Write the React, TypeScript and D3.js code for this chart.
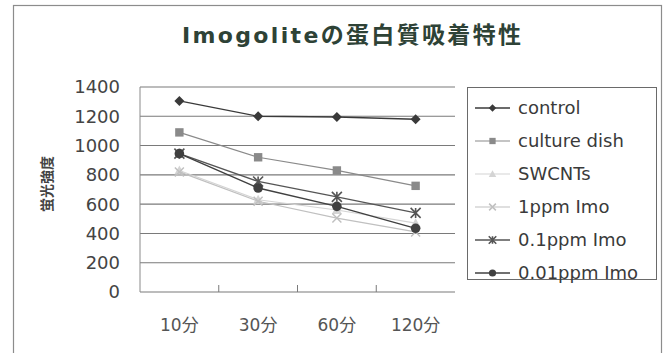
import React from "react";
import * as d3 from "d3";

const categories = ["10分", "30分", "60分", "120分"];
const yTicks = [0, 200, 400, 600, 800, 1000, 1200, 1400];

const control = [1305, 1200, 1195, 1180];
const cultureDish = [1090, 920, 830, 725];
const swcnts = [830, 630, 560, 470];
const imo1ppm = [820, 620, 505, 410];
const imo01ppm = [945, 755, 650, 540];
const imo001ppm = [945, 710, 585, 435];

type Marker = "diamond" | "square" | "triangle" | "x" | "asterisk" | "circle";

const series: { name: string; values: number[]; color: string; marker: Marker; width: number }[] = [
  { name: "control", values: control, color: "#3a3a3a", marker: "diamond", width: 1.4 },
  { name: "culture dish", values: cultureDish, color: "#8a8a8a", marker: "square", width: 1.2 },
  { name: "SWCNTs", values: swcnts, color: "#d4d4d4", marker: "triangle", width: 1.2 },
  { name: "1ppm Imo", values: imo1ppm, color: "#c0c0c0", marker: "x", width: 1.2 },
  { name: "0.1ppm Imo", values: imo01ppm, color: "#555555", marker: "asterisk", width: 1.3 },
  { name: "0.01ppm Imo", values: imo001ppm, color: "#404040", marker: "circle", width: 1.4 },
];

const FONT = "'DejaVu Sans', 'Noto Sans CJK JP', sans-serif";
const CJK = "'Noto Sans CJK JP', sans-serif";

function MarkerShape({ type, x, y, color, s = 1 }: { type: Marker; x: number; y: number; color: string; s?: number }) {
  switch (type) {
    case "diamond": {
      const r = 5 * s;
      return <path d={`M${x},${y - r}L${x + r},${y}L${x},${y + r}L${x - r},${y}Z`} fill={color} />;
    }
    case "square": {
      const r = 4.2 * s;
      return <rect x={x - r} y={y - r} width={2 * r} height={2 * r} fill={color} />;
    }
    case "triangle": {
      const r = 5 * s;
      return <path d={`M${x},${y - r}L${x + r},${y + r * 0.8}L${x - r},${y + r * 0.8}Z`} fill={color} />;
    }
    case "x": {
      const r = 4.5 * s;
      return (
        <path d={`M${x - r},${y - r}L${x + r},${y + r}M${x - r},${y + r}L${x + r},${y - r}`} stroke={color} strokeWidth={1.5} />
      );
    }
    case "asterisk": {
      const r = 5 * s;
      return (
        <path
          d={`M${x - r},${y - r}L${x + r},${y + r}M${x - r},${y + r}L${x + r},${y - r}M${x},${y - r}L${x},${y + r}`}
          stroke={color}
          strokeWidth={1.6}
        />
      );
    }
    case "circle":
      return <circle cx={x} cy={y} r={4.8 * s} fill={color} />;
  }
}

export default function App() {
  const left = 140;
  const right = 455;
  const top = 87;
  const bottom = 292;

  const x = d3.scaleBand<string>().domain(categories).range([left, right]);
  const y = d3.scaleLinear().domain([0, 1400]).range([bottom, top]);
  const cx = (c: string) => (x(c) as number) + x.bandwidth() / 2;

  const line = d3
    .line<number>()
    .x((_, i) => cx(categories[i]))
    .y((v) => y(v));

  const legendX = 467;
  const legendY = 87;
  const legendRow = 33;

  return (
    <svg
      width={671}
      height={353}
      style={{ position: "absolute", left: 0, top: 0, background: "#fff" }}
      fontFamily={FONT}
    >
      <rect x={0} y={0} width={671} height={353} fill="#fff" />
      <rect x={13.5} y={5.5} width={648} height={352} fill="none" stroke="#8c8c8c" strokeWidth={1.2} />

      <text
        x={182}
        y={43}
        fontSize={22}
        fontWeight={700}
        fill="#2e4236"
        textLength={339}
        lengthAdjust="spacing"
      >
        <tspan fontFamily="'DejaVu Sans', sans-serif">Imogolite</tspan>
        <tspan fontFamily={CJK} fontSize={23}>の蛋白質吸着特性</tspan>
      </text>

      {/* horizontal gridlines */}
      {yTicks.map((t) => (
        <line key={t} x1={left} x2={right} y1={y(t)} y2={y(t)} stroke="#7a7a7a" strokeWidth={1.1} />
      ))}
      <line x1={left} x2={left} y1={top} y2={bottom} stroke="#8a8a8a" strokeWidth={1} />

      {/* category separators */}
      {categories.slice(1).map((c) => (
        <line key={c} x1={x(c)} x2={x(c)} y1={bottom} y2={bottom - 7} stroke="#7a7a7a" strokeWidth={1} />
      ))}

      {/* y tick labels */}
      {yTicks.map((t) => (
        <text key={t} x={120} y={y(t)} dy="0.36em" textAnchor="end" fontSize={18} fill="#444">
          {t}
        </text>
      ))}

      {/* x tick labels */}
      {categories.map((c) => (
        <text key={c} x={cx(c)} y={325} dy="0.36em" textAnchor="middle" fontSize={17} fill="#555">
          {c}
        </text>
      ))}

      <text
        transform="translate(47,184) rotate(-90)"
        textAnchor="middle"
        dy="0.36em"
        fontSize={14}
        fontWeight={700}
        fontFamily={CJK}
        fill="#444"
      >
        蛍光強度
      </text>

      {/* series */}
      {series.map((s) => (
        <g key={s.name}>
          <path d={line(s.values) as string} fill="none" stroke={s.color} strokeWidth={s.width} />
          {s.values.map((v, i) => (
            <MarkerShape key={i} type={s.marker} x={cx(categories[i])} y={y(v)} color={s.color} />
          ))}
        </g>
      ))}

      {/* legend */}
      <rect x={legendX + 0.5} y={legendY + 0.5} width={189} height={192} fill="#fff" stroke="#6a6a6a" strokeWidth={1} />
      {series.map((s, i) => {
        const ly = legendY + 21 + i * legendRow;
        return (
          <g key={s.name}>
            <line x1={475} x2={510} y1={ly} y2={ly} stroke={s.color} strokeWidth={s.width} />
            <MarkerShape type={s.marker} x={492.5} y={ly} color={s.color} s={0.75} />
            <text x={518} y={ly} dy="0.36em" fontSize={18} fill="#3a3a3a">
              {s.name}
            </text>
          </g>
        );
      })}
    </svg>
  );
}
